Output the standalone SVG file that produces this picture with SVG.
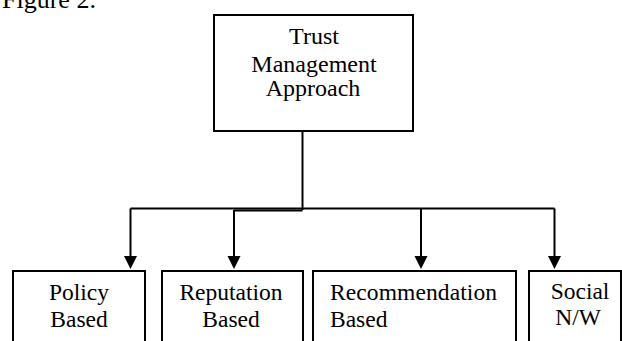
<svg xmlns="http://www.w3.org/2000/svg" width="622" height="341" viewBox="0 0 622 341">
<style>
.box{fill:#fff;stroke:#000;stroke-width:2}
.t{font-family:"Liberation Serif","Times New Roman",serif;font-size:23.5px;fill:#000}
.top{font-size:24px}
.c{text-anchor:middle}
.ln{fill:none;stroke:#000;stroke-width:2}
</style>
<rect width="622" height="341" fill="#fff"/>
<text class="t" x="2" y="8" style="font-size:26px">Figure 2.</text>
<g id="connectors">
<path class="ln" d="M302.5,131 V210"/>
<path class="ln" d="M130.5,208.5 H554.5"/>
<path class="ln" d="M234,210.5 H302.5"/>
<path d="M130.5,208.5 V256" class="ln"/>
<path d="M234,210 V256" class="ln"/>
<path d="M421,208.5 V256" class="ln"/>
<path d="M554.5,208.5 V256" class="ln"/>
<path d="M124,256 H137 L130.5,269 Z" fill="#000"/>
<path d="M227.5,256 H240.5 L234,269 Z" fill="#000"/>
<path d="M414.5,256 H427.5 L421,269 Z" fill="#000"/>
<path d="M548,256 H561 L554.5,269 Z" fill="#000"/>
</g>
<g id="trust">
<rect class="box" x="214" y="15" width="199" height="116"/>
<text class="t top c" x="314" y="44">Trust</text>
<text class="t top c" x="314" y="71.5">Management</text>
<text class="t top c" x="313" y="96">Approach</text>
</g>
<g id="policy">
<rect class="box" x="13" y="271" width="132" height="80"/>
<text class="t c" x="79" y="300">Policy</text>
<text class="t c" x="79" y="326.5">Based</text>
</g>
<g id="reputation">
<rect class="box" x="162" y="271" width="141" height="80"/>
<text class="t c" x="231" y="300">Reputation</text>
<text class="t c" x="231" y="326.5">Based</text>
</g>
<g id="recommendation">
<rect class="box" x="313" y="271" width="203" height="80"/>
<text class="t" x="330" y="300" textLength="167" lengthAdjust="spacing">Recommendation</text>
<text class="t" x="330" y="326.5">Based</text>
</g>
<g id="social">
<rect class="box" x="529" y="271" width="92" height="80"/>
<text class="t c" x="580" y="299">Social</text>
<text class="t c" x="578" y="325">N/W</text>
</g>
</svg>
